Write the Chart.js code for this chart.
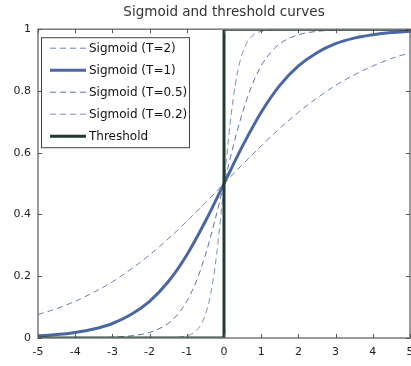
<!DOCTYPE html>
<html>
<head>
<meta charset="utf-8">
<script src="https://cdn.jsdelivr.net/npm/chart.js@4.4.1/dist/chart.umd.min.js"></script>
<style>
  html, body { margin: 0; padding: 0; background: #fff; }
  #wrap { width: 411px; height: 366px; }
</style>
</head>
<body>
<div id="wrap"><canvas id="sigChart" width="411" height="366"></canvas></div>
<script>
// values
const xWide = [-5, -4.5, -4, -3.5, -3, -2.5, -2, -1.5, -1, -0.5, 0, 0.5, 1, 1.5, 2, 2.5, 3, 3.5, 4, 4.5, 5];
const sigT2 = [0.076, 0.095, 0.119, 0.148, 0.182, 0.223, 0.269, 0.321, 0.378, 0.438, 0.5, 0.562, 0.622, 0.679, 0.731, 0.777, 0.818, 0.852, 0.881, 0.905, 0.924];
const sigT1 = [0.007, 0.011, 0.018, 0.029, 0.047, 0.076, 0.119, 0.182, 0.269, 0.378, 0.5, 0.622, 0.731, 0.818, 0.881, 0.924, 0.953, 0.971, 0.982, 0.989, 0.993];

const xHalf = [-5, -4, -3, -2.5, -2, -1.5, -1.25, -1, -0.75, -0.5, -0.25, 0, 0.25, 0.5, 0.75, 1, 1.25, 1.5, 2, 2.5, 3, 4, 5];
const sigT05 = [0.0, 0.0003, 0.0025, 0.007, 0.018, 0.047, 0.076, 0.119, 0.182, 0.269, 0.378, 0.5, 0.622, 0.731, 0.818, 0.881, 0.924, 0.953, 0.982, 0.993, 0.9975, 0.9997, 1.0];

const xSharp = [-5, -1.5, -1, -0.8, -0.6, -0.5, -0.4, -0.3, -0.2, -0.1, 0, 0.1, 0.2, 0.3, 0.4, 0.5, 0.6, 0.8, 1, 1.5, 5];
const sigT02 = [0.0, 0.0006, 0.007, 0.018, 0.047, 0.076, 0.119, 0.182, 0.269, 0.378, 0.5, 0.622, 0.731, 0.818, 0.881, 0.924, 0.953, 0.982, 0.993, 0.9994, 1.0];

const xStep = [-5, 0, 0, 5];
const stepVals = [0, 0, 1, 1];

const seriesNames = ['Sigmoid (T=2)', 'Sigmoid (T=1)', 'Sigmoid (T=0.5)', 'Sigmoid (T=0.2)', 'Threshold'];
const xTicks = [-5, -4, -3, -2, -1, 0, 1, 2, 3, 4, 5];
const yTicks = [0, 0.2, 0.4, 0.6, 0.8, 1];

const FONT = 'DejaVu Sans';

function pts(xs, ys){
  return xs.map((x, i) => ({x: x, y: ys[i]}));
}

// frame + inward ticks, matlab style
const framePlugin = {
  id: 'frame',
  afterDatasetsDraw(chart){
    const {ctx, chartArea: a, scales} = chart;
    ctx.save();
    ctx.strokeStyle = '#7a7a7a';
    ctx.lineWidth = 1.5;
    ctx.strokeRect(a.left, a.top, a.right - a.left, a.bottom - a.top);
    ctx.lineWidth = 1;
    ctx.strokeStyle = '#555';
    ctx.beginPath();
    xTicks.forEach(v => {
      const px = Math.round(scales.x.getPixelForValue(v)) + 0.5;
      ctx.moveTo(px, a.bottom); ctx.lineTo(px, a.bottom - 4);
      ctx.moveTo(px, a.top); ctx.lineTo(px, a.top + 4);
    });
    yTicks.forEach(v => {
      const py = Math.round(scales.y.getPixelForValue(v)) + 0.5;
      ctx.moveTo(a.left, py); ctx.lineTo(a.left + 4, py);
      ctx.moveTo(a.right, py); ctx.lineTo(a.right - 4, py);
    });
    ctx.stroke();
    ctx.restore();
  }
};

// legend box inside the axes (top-left)
const boxLegend = {
  id: 'boxLegend',
  afterDraw(chart){
    const ctx = chart.ctx;
    const a = chart.chartArea;
    const bx = a.left + 3, by = a.top + 8, bw = 148, bh = 110;
    ctx.save();
    ctx.fillStyle = '#fff';
    ctx.fillRect(bx, by, bw, bh);
    ctx.strokeStyle = '#444';
    ctx.lineWidth = 1;
    ctx.strokeRect(bx + 0.5, by + 0.5, bw, bh);
    ctx.font = '12px "' + FONT + '"';
    ctx.textBaseline = 'middle';
    chart.data.datasets.forEach((ds, i) => {
      const y = by + 11 + i * 22;
      ctx.strokeStyle = ds.borderColor;
      ctx.lineWidth = ds.borderWidth;
      ctx.setLineDash(ds.borderDash || []);
      ctx.beginPath();
      ctx.moveTo(bx + 9, y); ctx.lineTo(bx + 45, y);
      ctx.stroke();
      ctx.setLineDash([]);
      ctx.fillStyle = '#111';
      ctx.fillText(ds.label, bx + 48, y + 1);
    });
    ctx.restore();
  }
};

const line = (label, data, color, width, dash, order) => ({
  label: label,
  data: data,
  borderColor: color,
  borderWidth: width,
  borderDash: dash,
  pointRadius: 0,
  fill: false,
  cubicInterpolationMode: 'monotone',
  order: order
});

new Chart(document.getElementById('sigChart').getContext('2d'), {
  type: 'line',
  data: {
    datasets: [
      line(seriesNames[0], pts(xWide, sigT2), '#6780b8', 1, [6, 4], 4),
      line(seriesNames[1], pts(xWide, sigT1), '#4a66a4', 3, [], 3),
      line(seriesNames[2], pts(xHalf, sigT05), '#5a72aa', 1, [6, 4], 2),
      line(seriesNames[3], pts(xSharp, sigT02), '#7d8db6', 1, [6, 4], 1),
      Object.assign(line(seriesNames[4], pts(xStep, stepVals), '#1d3a2c', 3, [], 0), {cubicInterpolationMode: 'default', tension: 0})
    ]
  },
  options: {
    responsive: false,
    animation: false,
    layout: { padding: { left: 0, right: 1, top: 0, bottom: 0 } },
    plugins: {
      legend: { display: false },
      tooltip: { enabled: false },
      title: {
        display: true,
        fullSize: false,
        text: 'Sigmoid and threshold curves',
        color: '#333',
        font: { family: FONT, size: 13.5, weight: 'normal' },
        padding: { top: 4, bottom: 9 }
      }
    },
    scales: {
      x: {
        type: 'linear',
        min: -5, max: 5,
        border: { display: false },
        grid: { display: false, drawTicks: false },
        ticks: { stepSize: 1, padding: 8, color: '#222', font: { family: FONT, size: 11 } },
        afterFit(s){ s.height = 28; s.paddingLeft = 0; s.paddingRight = 0; }
      },
      y: {
        min: 0, max: 1,
        border: { display: false },
        grid: { display: false, drawTicks: false },
        ticks: {
          stepSize: 0.2, padding: 7, color: '#222', font: { family: FONT, size: 11 },
          callback: v => String(Math.round(v * 10) / 10)
        },
        afterFit(s){ s.width = 38; s.paddingTop = 0; s.paddingBottom = 0; }
      }
    }
  },
  plugins: [framePlugin, boxLegend]
});
</script>
</body>
</html>
